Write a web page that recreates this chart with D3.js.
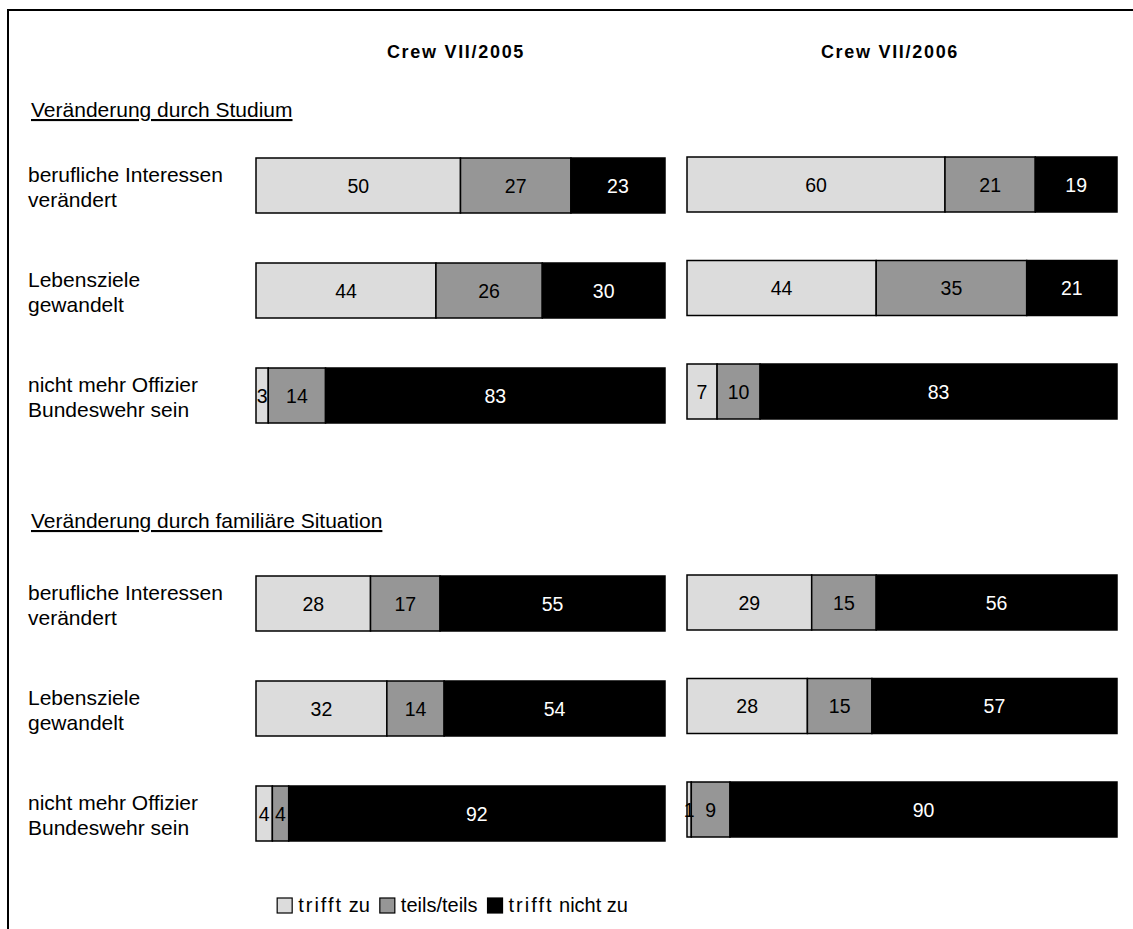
<!DOCTYPE html>
<html><head><meta charset="utf-8">
<script src="https://cdn.jsdelivr.net/npm/d3@7"></script>
<style>
html,body{margin:0;padding:0;background:#fff;}
svg{display:block;font-family:Arial,"Liberation Sans",sans-serif;}
</style></head>
<body>
<svg id="chart" width="1133" height="929"></svg>
<script>
// ---- data ----
const panels = ["Crew VII/2005", "Crew VII/2006"];
const sections = ["Veränderung durch Studium", "Veränderung durch familiäre Situation"];
const items = [["berufliche Interessen", "verändert"], ["Lebensziele", "gewandelt"], ["nicht mehr Offizier", "Bundeswehr sein"]];
const seriesNames = ["trifft zu", "teils/teils", "trifft nicht zu"];
const seriesColors = ["#dcdcdc", "#969696", "#000000"];
const labelColors = ["#000", "#000", "#fff"];
// rows: section 1 (3 items), section 2 (3 items)
const trifftZu2005   = [50, 44, 3, 28, 32, 4];
const teils2005      = [27, 26, 14, 17, 14, 4];
const nichtZu2005    = [23, 30, 83, 55, 54, 92];
const trifftZu2006   = [60, 44, 7, 29, 28, 1];
const teils2006      = [21, 35, 10, 15, 15, 9];
const nichtZu2006    = [19, 21, 83, 56, 57, 90];
const panelData = [[trifftZu2005, teils2005, nichtZu2005], [trifftZu2006, teils2006, nichtZu2006]];

// ---- layout ----
const svg = d3.select("#chart");
svg.append("rect").attr("width", 1133).attr("height", 929).attr("fill", "#fff");
svg.append("path").attr("d", "M8,929V10H1133").attr("fill", "none").attr("stroke", "#000").attr("stroke-width", 2);

const barH = 55;
const xScales = [
  d3.scaleLinear().domain([0, 100]).range([256, 665]),
  d3.scaleLinear().domain([0, 100]).range([687, 1117])
];
const rowStep = [105, 103.5];
const rowStart = [158, 157];
const sectionGap = [103, 107.5];
function rowY(p, i) { return rowStart[p] + i * rowStep[p] + (i >= 3 ? sectionGap[p] : 0); }

const textSize = 21;
const valueSize = 19.5;

// panel titles
const titleX = [456, 890];
panels.forEach((t, p) => {
  svg.append("text").attr("x", titleX[p]).attr("y", 58).attr("text-anchor", "middle")
    .attr("font-weight", "bold").attr("font-size", 18).attr("letter-spacing", 1.7).text(t);
});

// section headings
const headY = [117, 528];
sections.forEach((s, k) => {
  svg.append("text").attr("x", 31).attr("y", headY[k]).attr("font-size", textSize)
    .attr("text-decoration", "underline").text(s);
});

// row labels
for (let i = 0; i < 6; i++) {
  const lines = items[i % 3];
  const t = svg.append("text").attr("x", 28).attr("font-size", textSize);
  lines.forEach((ln, j) => {
    t.append("tspan").attr("x", 28).attr("y", rowY(0, i) + 24 + j * 25).text(ln);
  });
}

// bars
panelData.forEach((series, p) => {
  const x = xScales[p];
  const g = svg.append("g");
  for (let i = 0; i < 6; i++) {
    const stack = [];
    let acc = 0;
    series.forEach((s, k) => { stack.push({k, v: s[i], x0: acc, x1: acc + s[i]}); acc += s[i]; });
    const y = rowY(p, i);
    g.selectAll(null).data(stack).enter().append("rect")
      .attr("x", d => x(d.x0)).attr("y", y)
      .attr("width", d => x(d.x1) - x(d.x0)).attr("height", barH)
      .attr("fill", d => seriesColors[d.k]).attr("stroke", "#000").attr("stroke-width", 1.5);
    g.selectAll(null).data(stack).enter().append("text")
      .attr("x", d => (x(d.x0) + x(d.x1)) / 2).attr("y", y + barH / 2 + 7)
      .attr("text-anchor", "middle").attr("font-size", valueSize)
      .attr("fill", d => labelColors[d.k]).text(d => d.v);
  }
});

// legend (right edge at ~628)
const leg = svg.append("g");
let lx = 0;
seriesNames.forEach((n, k) => {
  leg.append("rect").attr("x", lx).attr("y", -14).attr("width", 15).attr("height", 15)
    .attr("fill", seriesColors[k]).attr("stroke", "#000").attr("stroke-width", 1.2);
  const t = leg.append("text").attr("x", lx + 21).attr("y", 0).attr("font-size", 20);
  n.split(" ").forEach((w, wi) => {
    t.append("tspan").attr("letter-spacing", w === "trifft" ? 2 : 0).text((wi ? " " : "") + w);
  });
  lx += 21 + t.node().getComputedTextLength() + 10;
});
const legW = lx - 10;
leg.attr("transform", `translate(${628 - legW},912)`);
</script>
</body></html>
